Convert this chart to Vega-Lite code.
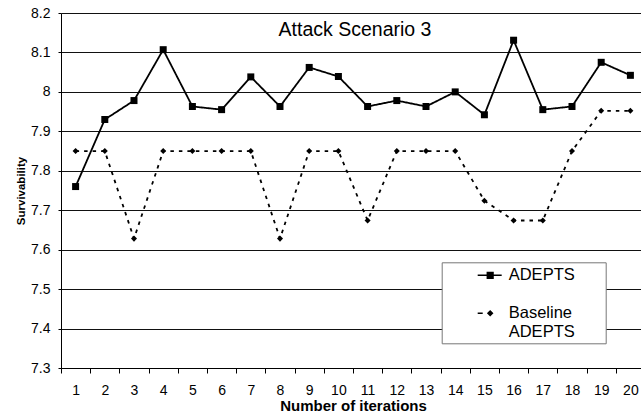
{
  "$schema": "https://vega.github.io/schema/vega-lite/v6.json",
  "width": 580,
  "height": 355,
  "autosize": {"type": "none"},
  "padding": {"left": 61, "top": 13, "right": 0, "bottom": 46},
  "background": "white",
  "title": {"text": "Attack Scenario 3", "font": "Liberation Sans", "fontSize": 19.5, "fontWeight": "normal", "color": "black", "anchor": "middle", "frame": "group", "baseline": "alphabetic", "offset": -49, "dx": 4},
  "data": {"values": [
    {"iter": 1, "series": "ADEPTS", "value": 7.76},
    {"iter": 2, "series": "ADEPTS", "value": 7.93},
    {"iter": 3, "series": "ADEPTS", "value": 7.978},
    {"iter": 4, "series": "ADEPTS", "value": 8.107},
    {"iter": 5, "series": "ADEPTS", "value": 7.963},
    {"iter": 6, "series": "ADEPTS", "value": 7.955},
    {"iter": 7, "series": "ADEPTS", "value": 8.038},
    {"iter": 8, "series": "ADEPTS", "value": 7.963},
    {"iter": 9, "series": "ADEPTS", "value": 8.062},
    {"iter": 10, "series": "ADEPTS", "value": 8.039},
    {"iter": 11, "series": "ADEPTS", "value": 7.963},
    {"iter": 12, "series": "ADEPTS", "value": 7.978},
    {"iter": 13, "series": "ADEPTS", "value": 7.963},
    {"iter": 14, "series": "ADEPTS", "value": 8.0},
    {"iter": 15, "series": "ADEPTS", "value": 7.942},
    {"iter": 16, "series": "ADEPTS", "value": 8.131},
    {"iter": 17, "series": "ADEPTS", "value": 7.955},
    {"iter": 18, "series": "ADEPTS", "value": 7.963},
    {"iter": 19, "series": "ADEPTS", "value": 8.075},
    {"iter": 20, "series": "ADEPTS", "value": 8.042},
    {"iter": 1, "series": "Baseline ADEPTS", "value": 7.85},
    {"iter": 2, "series": "Baseline ADEPTS", "value": 7.85},
    {"iter": 3, "series": "Baseline ADEPTS", "value": 7.628},
    {"iter": 4, "series": "Baseline ADEPTS", "value": 7.85},
    {"iter": 5, "series": "Baseline ADEPTS", "value": 7.85},
    {"iter": 6, "series": "Baseline ADEPTS", "value": 7.85},
    {"iter": 7, "series": "Baseline ADEPTS", "value": 7.85},
    {"iter": 8, "series": "Baseline ADEPTS", "value": 7.628},
    {"iter": 9, "series": "Baseline ADEPTS", "value": 7.85},
    {"iter": 10, "series": "Baseline ADEPTS", "value": 7.85},
    {"iter": 11, "series": "Baseline ADEPTS", "value": 7.674},
    {"iter": 12, "series": "Baseline ADEPTS", "value": 7.85},
    {"iter": 13, "series": "Baseline ADEPTS", "value": 7.85},
    {"iter": 14, "series": "Baseline ADEPTS", "value": 7.85},
    {"iter": 15, "series": "Baseline ADEPTS", "value": 7.724},
    {"iter": 16, "series": "Baseline ADEPTS", "value": 7.674},
    {"iter": 17, "series": "Baseline ADEPTS", "value": 7.674},
    {"iter": 18, "series": "Baseline ADEPTS", "value": 7.85},
    {"iter": 19, "series": "Baseline ADEPTS", "value": 7.952},
    {"iter": 20, "series": "Baseline ADEPTS", "value": 7.952}
  ]},
  "encoding": {
    "x": {
      "field": "iter", "type": "ordinal", "bandPosition": 0.5,
      "scale": {"type": "band", "paddingInner": 0, "paddingOuter": 0, "range": [0, 584]},
      "axis": {"title": "Number of iterations", "titleFont": "Liberation Sans", "titleFontSize": 15, "titleFontWeight": "bold", "titleColor": "black", "titlePadding": 1, "labelAngle": 0, "labelFont": "Liberation Sans", "labelFontSize": 14, "labelColor": "black", "labelPadding": 10, "tickBand": "extent", "tickColor": "black", "tickSize": 5, "domainColor": "black", "domainWidth": 1, "grid": false, "labelOverlap": false}
    },
    "y": {
      "field": "value", "type": "quantitative",
      "scale": {"domain": [7.3, 8.2], "nice": false, "zero": false},
      "axis": {"title": "Survivability", "values": [7.3, 7.4, 7.5, 7.6, 7.7, 7.8, 7.9, 8, 8.1, 8.2], "format": "~g", "grid": true, "gridColor": "#111", "gridWidth": 1, "tickColor": "black", "tickSize": 3, "labelPadding": 8, "labelFont": "Liberation Sans", "labelFontSize": 14, "labelColor": "black", "domainColor": "black", "titleFont": "Liberation Sans", "titleFontSize": 11.5, "titleFontWeight": "bold", "titleColor": "black", "titlePadding": 4}
    }
  },
  "layer": [
    {
      "mark": {"type": "line", "color": "black", "strokeWidth": 1.8},
      "encoding": {
        "strokeDash": {"field": "series", "type": "nominal", "scale": {"domain": ["ADEPTS", "Baseline ADEPTS"], "range": [[1, 0], [3.5, 5]]}, "legend": null}
      }
    },
    {
      "mark": {"type": "point", "filled": true, "color": "black", "opacity": 1, "size": 49},
      "encoding": {
        "shape": {"field": "series", "type": "nominal", "scale": {"domain": ["ADEPTS", "Baseline ADEPTS"], "range": ["M-1,-1H1V1H-1Z", "M0,-0.86L0.86,0L0,0.86L-0.86,0Z"]}, "legend": null}
      }
    },
    {
      "transform": [{"filter": "datum.value > 100"}],
      "mark": {"type": "point", "filled": true, "color": "black", "opacity": 1},
      "encoding": {
        "shape": {
          "field": "series", "type": "nominal",
          "scale": {"domain": ["ADEPTS", "Baseline ADEPTS"], "range": ["M0.032,-0.026H0.806V0.026H0.032ZM0.319,-0.116H0.551V0.116H0.319Z", "M0.032,-0.026H0.194V0.026H0.032ZM0.435,-0.106L0.541,0L0.435,0.106L0.329,0Z"]},
          "legend": {
            "title": " ", "titleOrient": "right", "titlePadding": 28, "titleFontSize": 16,
            "orient": "none", "legendX": 380.7, "legendY": 249.3,
            "padding": 3, "fillColor": "white", "strokeColor": "#777",
            "symbolSize": 3844, "clipHeight": 20, "symbolOpacity": 1,
            "symbolFillColor": "black",
            "labelFont": "Liberation Sans", "labelFontSize": 16.5, "labelColor": "black", "labelOffset": 0, "rowPadding": 18,
            "labelExpr": "datum.label == 'Baseline ADEPTS' ? ['Baseline', 'ADEPTS'] : datum.label",
            "encode": {
              "symbols": {"update": {"fill": {"value": "black"}}},
              "labels": {"update": {"dy": {"signal": "datum.value == 'Baseline ADEPTS' ? 8 : 0"}, "lineHeight": {"value": 17}}}
            }
          }
        }
      }
    }
  ],
  "resolve": {"scale": {"shape": "independent"}},
  "config": {"view": {"stroke": null}, "font": "Liberation Sans"}
}
